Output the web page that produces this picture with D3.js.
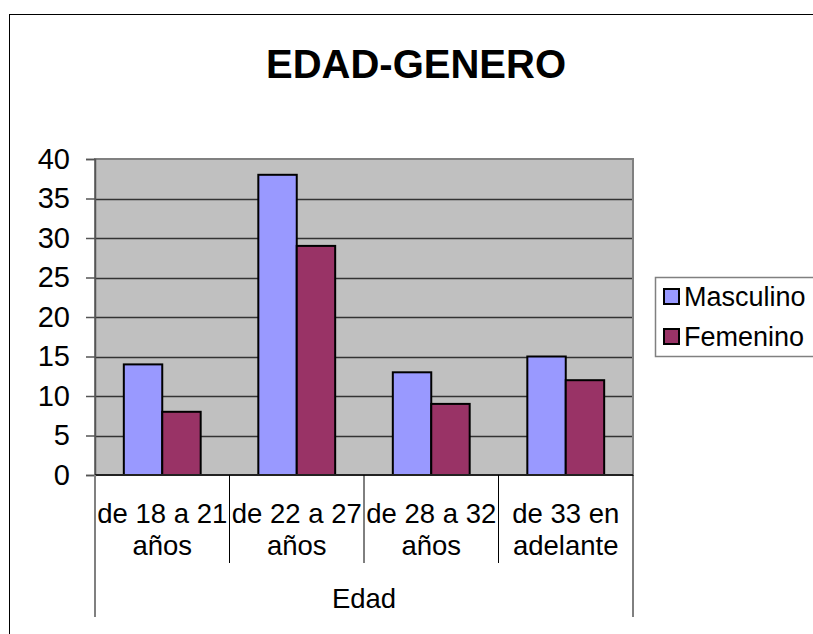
<!DOCTYPE html>
<html>
<head>
<meta charset="utf-8">
<script src="https://cdn.jsdelivr.net/npm/d3@7"></script>
<style>
  body { margin: 0; background: #fff; }
  svg { display: block; font-family: "Liberation Sans", Arial, sans-serif; }
</style>
</head>
<body>
<div id="chart"></div>
<script>
(function() {

const w = 813;
const h = 634;

// data
const categories = [["de 18 a 21", "años"], ["de 22 a 27", "años"], ["de 28 a 32", "años"], ["de 33 en", "adelante"]];
const seriesNames = ["Masculino", "Femenino"];
const masculino = [14, 38, 13, 15];
const femenino = [8, 29, 9, 12];
const yTicks = [0, 5, 10, 15, 20, 25, 30, 35, 40];
const colours = ["#9999ff", "#993366"];

const plot = { left: 95, right: 633, top: 159, bottom: 475 };

const svg = d3.select("#chart")
    .append("svg")
    .attr("width", w)
    .attr("height", h);

// outer frame (runs off the picture right and bottom)
svg.append("rect")
    .attr("x", 9.5)
    .attr("y", 14.5)
    .attr("width", w + 20)
    .attr("height", h + 20)
    .attr("fill", "white")
    .attr("stroke", "black");

// title
svg.append("text")
    .attr("x", 416)
    .attr("y", 78)
    .attr("text-anchor", "middle")
    .attr("font-size", 40)
    .attr("font-weight", "bold")
    .text("EDAD-GENERO");

const yScale = d3.scaleLinear()
    .domain([0, 40])
    .range([plot.bottom, plot.top]);

const x0 = d3.scaleBand()
    .domain(d3.range(categories.length))
    .range([plot.left, plot.right]);

const x1 = d3.scaleBand()
    .domain(seriesNames)
    .range([0, x0.bandwidth()])
    .paddingInner(0)
    .paddingOuter(0.75);

// plot area
svg.append("rect")
    .attr("x", plot.left)
    .attr("y", plot.top)
    .attr("width", plot.right - plot.left)
    .attr("height", plot.bottom - plot.top)
    .attr("fill", "#c0c0c0");

// gridlines
svg.append("g")
    .selectAll("line")
    .data(yTicks.filter(function(d) { return d > 0 && d < 40; }))
    .enter()
    .append("line")
    .attr("x1", plot.left)
    .attr("x2", plot.right)
    .attr("y1", function(d) { return Math.round(yScale(d)) + 0.5; })
    .attr("y2", function(d) { return Math.round(yScale(d)) + 0.5; })
    .attr("stroke", "#333")
    .attr("stroke-width", 1.5);

// plot border
svg.append("rect")
    .attr("x", plot.left)
    .attr("y", plot.top)
    .attr("width", plot.right - plot.left)
    .attr("height", plot.bottom - plot.top)
    .attr("fill", "none")
    .attr("stroke", "#808080")
    .attr("stroke-width", 2);

// bars
const values = [masculino, femenino];
const groups = svg.append("g")
    .selectAll("g")
    .data(categories)
    .enter()
    .append("g")
    .attr("transform", function(d, i) { return "translate(" + x0(i) + ",0)"; });

groups.selectAll("rect")
    .data(function(d, i) {
        return seriesNames.map(function(s, j) { return { series: s, value: values[j][i], idx: j }; });
    })
    .enter()
    .append("rect")
    .attr("x", function(d) { return x1(d.series); })
    .attr("y", function(d) { return yScale(d.value); })
    .attr("width", x1.bandwidth())
    .attr("height", function(d) { return plot.bottom - yScale(d.value); })
    .attr("fill", function(d) { return colours[d.idx]; })
    .attr("stroke", "black")
    .attr("stroke-width", 2);

// y axis
const yAxis = svg.append("g")
    .attr("transform", "translate(" + plot.left + ",0)")
    .call(d3.axisLeft(yScale).tickValues(yTicks).tickSize(9).tickPadding(16));

yAxis.select(".domain").attr("stroke", "#555").attr("stroke-width", 1.5);
yAxis.selectAll(".tick line").attr("stroke", "#555").attr("stroke-width", 1.5);
yAxis.selectAll(".tick text")
    .attr("font-size", 29)
    .attr("font-family", "'Liberation Sans', Arial, sans-serif")
    .attr("fill", "black");

// x axis base line
svg.append("line")
    .attr("x1", plot.left)
    .attr("x2", plot.right)
    .attr("y1", plot.bottom)
    .attr("y2", plot.bottom)
    .attr("stroke", "#222")
    .attr("stroke-width", 2);

// category dividers
const dividers = d3.range(categories.length + 1);
svg.append("g")
    .selectAll("line")
    .data(dividers)
    .enter()
    .append("line")
    .attr("x1", function(d) { return d === categories.length ? plot.right : x0(d); })
    .attr("x2", function(d) { return d === categories.length ? plot.right : x0(d); })
    .attr("y1", plot.bottom)
    .attr("y2", function(d) { return (d === 0 || d === categories.length) ? 617 : 563; })
    .attr("stroke", function(d) { return d === 0 ? "#808080" : "black"; })
    .attr("stroke-width", function(d) { return d === 0 ? 2 : 1; });

// category labels
const catText = svg.append("g")
    .selectAll("text")
    .data(categories)
    .enter()
    .append("text")
    .attr("x", function(d, i) { return x0(i) + x0.bandwidth() / 2; })
    .attr("y", 523)
    .attr("text-anchor", "middle")
    .attr("font-size", 27.5);

catText.selectAll("tspan")
    .data(function(d) { return d; })
    .enter()
    .append("tspan")
    .attr("x", function() { return d3.select(this.parentNode).attr("x"); })
    .attr("dy", function(d, i) { return i === 0 ? 0 : 32; })
    .text(function(d) { return d; });

// axis title
svg.append("text")
    .attr("x", (plot.left + plot.right) / 2)
    .attr("y", 608)
    .attr("text-anchor", "middle")
    .attr("font-size", 27.5)
    .text("Edad");

// legend
const legend = svg.append("g");
legend.append("rect")
    .attr("x", 655.5)
    .attr("y", 277.5)
    .attr("width", 200)
    .attr("height", 79)
    .attr("fill", "white")
    .attr("stroke", "#808080")
    .attr("stroke-width", 1.5);

const legendRows = legend.selectAll("g")
    .data(seriesNames)
    .enter()
    .append("g")
    .attr("transform", function(d, i) { return "translate(664," + (297 + i * 40) + ")"; });

legendRows.append("rect")
    .attr("x", 0)
    .attr("y", -8)
    .attr("width", 15)
    .attr("height", 15)
    .attr("fill", function(d, i) { return colours[i]; })
    .attr("stroke", "black")
    .attr("stroke-width", 2);

legendRows.append("text")
    .attr("x", 20)
    .attr("y", 0)
    .attr("dy", "0.35em")
    .attr("font-size", 27)
    .text(function(d) { return d; });

})();
</script>
</body>
</html>
